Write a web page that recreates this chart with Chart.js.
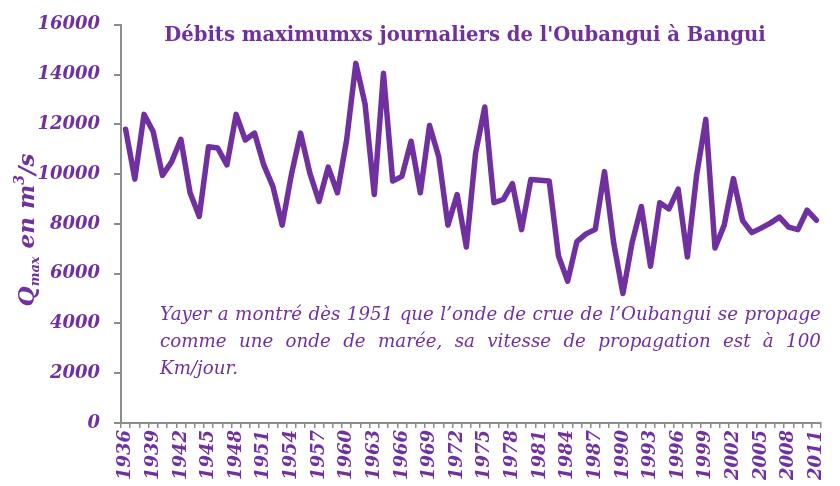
<!DOCTYPE html>
<html>
<head>
<meta charset="utf-8">
<script src="https://cdn.jsdelivr.net/npm/chart.js@4.4.0/dist/chart.umd.min.js"></script>
<style>
  html, body { margin: 0; padding: 0; background: #ffffff; }
  #wrap { width: 840px; height: 486px; position: relative; }
</style>
</head>
<body>
<div id="wrap"><canvas id="c" width="840" height="486"></canvas></div>
<script>
const years = ['1936','1937','1938','1939','1940','1941','1942','1943','1944','1945',
  '1946','1947','1948','1949','1950','1951','1952','1953','1954','1955',
  '1956','1957','1958','1959','1960','1961','1962','1963','1964','1965',
  '1966','1967','1968','1969','1970','1971','1972','1973','1974','1975',
  '1976','1977','1978','1979','1980','1981','1982','1983','1984','1985',
  '1986','1987','1988','1989','1990','1991','1992','1993','1994','1995',
  '1996','1997','1998','1999','2000','2001','2002','2003','2004','2005',
  '2006','2007','2008','2009','2010','2011'];
const qmax = [11800, 9800, 12400, 11700, 9950, 10500, 11400, 9250, 8300, 11100,
  11050, 10370, 12400, 11370, 11650, 10370, 9500, 7950, 9980, 11650,
  10050, 8900, 10280, 9250, 11370, 14450, 12820, 9180, 14050, 9720,
  9910, 11320, 9250, 11950, 10700, 7950, 9180, 7070, 10840, 12700,
  8850, 8980, 9620, 7770, 9780, 9750, 9720, 6720, 5700, 7290,
  7600, 7780, 10100, 7230, 5200, 7250, 8700, 6300, 8850, 8600,
  9400, 6670, 9950, 12200, 7030, 7950, 9820, 8130, 7650, 7830,
  8030, 8270, 7870, 7770, 8550, 8150];
const shownYears = ['1936','1939','1942','1945','1948','1951','1954','1957','1960','1963',
  '1966','1969','1972','1975','1978','1981','1984','1987','1990','1993',
  '1996','1999','2002','2005','2008','2011'];
const yTicks = [0, 2000, 4000, 6000, 8000, 10000, 12000, 14000, 16000];
const titleText = "Débits maximumxs journaliers de l'Oubangui à Bangui";
const noteLines = [
  "Yayer a montré dès 1951 que l’onde de crue de l’Oubangui se propage",
  "comme une onde de marée, sa vitesse de propagation est à 100",
  "Km/jour."
];

const PURPLE = '#7030A0';
const GREY = '#8C8C8C';
const SERIF = '"DejaVu Serif", "Liberation Serif", serif';

const textPlugin = {
  id: 'texts',
  afterDraw(chart) {
    const ctx = chart.ctx;
    const area = chart.chartArea;
    ctx.save();
    ctx.fillStyle = PURPLE;
    // Title
    ctx.font = 'bold 19.6px ' + SERIF;
    ctx.textAlign = 'center';
    ctx.textBaseline = 'alphabetic';
    ctx.fillText(titleText, 465, 41);

    // Annotation (justified)
    const left = 160, right = area.right;
    const width = right - left;
    let fs = 20;
    ctx.font = 'italic ' + fs + 'px ' + SERIF;
    while (ctx.measureText(noteLines[0]).width > width - 4 && fs > 12) {
      fs -= 0.25;
      ctx.font = 'italic ' + fs + 'px ' + SERIF;
    }
    ctx.textAlign = 'left';
    const baselines = [320, 347, 374];
    noteLines.forEach((line, li) => {
      const y = baselines[li];
      if (li === noteLines.length - 1) { ctx.fillText(line, left, y); return; }
      const words = line.split(' ');
      const ws = words.map(w => ctx.measureText(w).width);
      const total = ws.reduce((a, b) => a + b, 0);
      const gap = (width - total) / (words.length - 1);
      let x = left;
      words.forEach((w, i) => { ctx.fillText(w, x, y); x += ws[i] + gap; });
    });

    // Y axis title with subscript / superscript
    const parts = [
      {t: 'Q', f: 'bold italic 23px ' + SERIF, dy: 0},
      {t: 'max', f: 'bold italic 13px ' + SERIF, dy: 5},
      {t: ' en m', f: 'bold italic 23px ' + SERIF, dy: 0},
      {t: '3', f: 'bold italic 14px ' + SERIF, dy: -10},
      {t: '/s', f: 'bold italic 23px ' + SERIF, dy: 0}
    ];
    let tw = 0;
    parts.forEach(p => { ctx.font = p.f; p.w = ctx.measureText(p.t).width; tw += p.w; });
    ctx.translate(34, 230);
    ctx.rotate(-Math.PI / 2);
    let x = -tw / 2;
    parts.forEach(p => { ctx.font = p.f; ctx.fillText(p.t, x, p.dy); x += p.w; });
    ctx.restore();
  }
};

new Chart(document.getElementById('c'), {
  type: 'line',
  data: {
    labels: years,
    datasets: [{
      data: qmax,
      borderColor: PURPLE,
      borderWidth: 5.5,
      pointRadius: 0,
      tension: 0,
      borderJoinStyle: 'round',
      borderCapStyle: 'round',
      fill: false
    }]
  },
  options: {
    responsive: false,
    animation: false,
    devicePixelRatio: 1,
    layout: { padding: { top: 20, right: 14, left: 0, bottom: 0 } },
    plugins: { legend: { display: false }, tooltip: { enabled: false }, title: { display: false } },
    scales: {
      x: {
        offset: true,
        afterFit(s) { s.height = 63; },
        grid: { offset: true, drawOnChartArea: false, drawTicks: true, tickLength: 5, color: GREY, lineWidth: 1.5 },
        border: { color: GREY, width: 2 },
        ticks: {
          autoSkip: false, maxRotation: 90, minRotation: 90, padding: 2,
          color: PURPLE,
          font: { family: SERIF, size: 18, weight: 'bold', style: 'italic' },
          callback(v, i) { const y = years[i]; return shownYears.includes(y) ? y : ''; }
        }
      },
      y: {
        min: 0, max: 16000,
        afterFit(s) { s.width = 121; },
        afterBuildTicks(s) { s.ticks = yTicks.map(v => ({value: v})); },
        grid: { drawOnChartArea: false, drawTicks: true, tickLength: 7, color: GREY, lineWidth: 2 },
        border: { color: GREY, width: 2 },
        ticks: {
          padding: 14,
          color: PURPLE,
          font: { family: SERIF, size: 18, weight: 'bold', style: 'italic' },
          callback(v) { return String(v); }
        }
      }
    }
  },
  plugins: [textPlugin]
});
</script>
</body>
</html>
